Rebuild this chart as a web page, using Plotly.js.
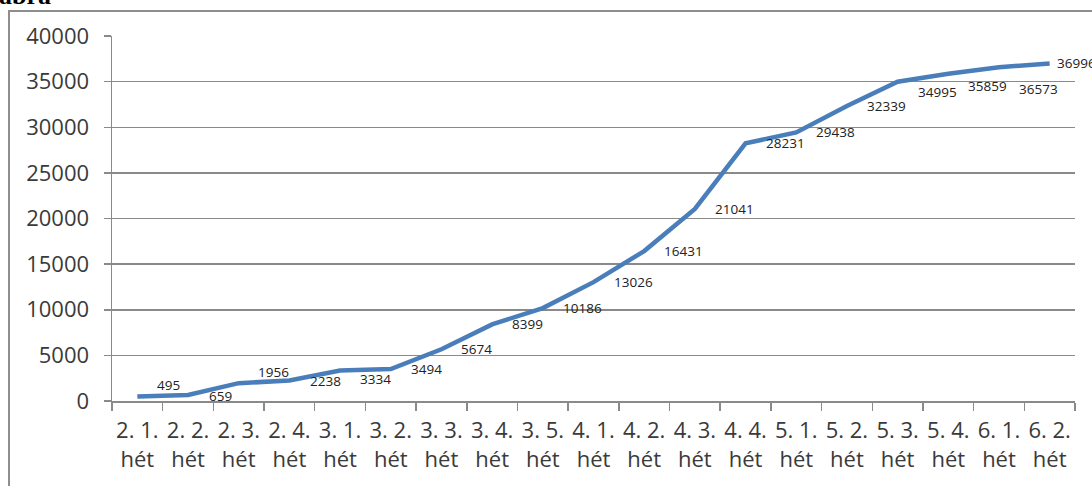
<!DOCTYPE html>
<html>
<head>
<meta charset="utf-8">
<script src="https://cdn.plot.ly/plotly-3.0.1.min.js"></script>
<style>
  html, body { margin: 0; padding: 0; background: #fff; overflow: hidden; }
  #wrap { position: relative; width: 1092px; height: 486px; overflow: hidden; }
  #frame { position: absolute; left: 8px; top: 10px; width: 1200px; height: 600px; border: 2px solid #8e8e8e; box-sizing: border-box; }
  #cap { position: absolute; left: -1px; top: -19px; font: bold 26px "Liberation Serif", serif; color: #000; }
  #chart { position: absolute; left: 0; top: 0; width: 1092px; height: 486px; }
</style>
</head>
<body>
<div id="wrap">
  <div id="frame"></div>
  <div id="cap">ábra</div>
  <div id="chart"></div>
</div>
<script>
// Categories (week labels) and cumulative values
const categories = ["2. 1. hét","2. 2. hét","2. 3. hét","2. 4. hét","3. 1. hét","3. 2. hét","3. 3. hét","3. 4. hét","3. 5. hét","4. 1. hét","4. 2. hét","4. 3. hét","4. 4. hét","5. 1. hét","5. 2. hét","5. 3. hét","5. 4. hét","6. 1. hét","6. 2. hét"];
const values = [495, 659, 1956, 2238, 3334, 3494, 5674, 8399, 10186, 13026, 16431, 21041, 28231, 29438, 32339, 34995, 35859, 36573, 36996];
const yTicks = [0, 5000, 10000, 15000, 20000, 25000, 30000, 35000, 40000];

// label placement (pixel shifts relative to each point)
const labelDx = [18,19,17,19,18,18,18,18,18,18,18,18,18,18,18,18,18,18,5];
const labelDy = [11,-1,11,0,-8,0,0,0,0,0,0,0,0,0,0,-10,-12,-22,0];

const annotations = values.map((v, i) => ({
  x: categories[i], y: v, xref: 'x', yref: 'y',
  text: String(v), showarrow: false,
  xanchor: 'left', yanchor: 'middle',
  xshift: labelDx[i], yshift: labelDy[i],
  font: { family: 'Open Sans, sans-serif', size: 13.5, color: '#222' }
}));

const trace = {
  x: categories, y: values, type: 'scatter', mode: 'lines',
  line: { color: '#4a7ebb', width: 4.5 },
  hoverinfo: 'skip', cliponaxis: false
};

const layout = {
  width: 1092, height: 486,
  margin: { l: 112, r: 17, t: 36, b: 85, pad: 0 },
  paper_bgcolor: 'rgba(0,0,0,0)', plot_bgcolor: 'rgba(0,0,0,0)',
  showlegend: false,
  font: { family: 'Open Sans, sans-serif', size: 22, color: '#3a3a3a' },
  xaxis: {
    type: 'category',
    tickmode: 'array', tickvals: categories,
    ticktext: categories.map(c => c.replace(' hét', '<br>hét')),
    showgrid: false, zeroline: false,
    showline: true, linecolor: '#8a8a8a', linewidth: 1.5,
    ticks: 'outside', ticklen: 8, tickcolor: '#8a8a8a', tickwidth: 1.5,
    tickson: 'boundaries',
    tickangle: 0,
    ticklabelstandoff: 9,
    tickfont: { size: 22, color: '#3a3a3a' },
    range: [-0.5, categories.length - 0.5]
  },
  yaxis: {
    range: [0, 40000],
    tickmode: 'array', tickvals: yTicks, ticktext: yTicks.map(String),
    showgrid: true, gridcolor: '#8a8a8a', gridwidth: 1.5,
    zeroline: false,
    showline: true, linecolor: '#8a8a8a', linewidth: 1.5,
    ticks: 'outside', ticklen: 7, tickcolor: '#8a8a8a', tickwidth: 1.5,
    ticklabelstandoff: 10,
    tickfont: { size: 22, color: '#3a3a3a' }
  },
  annotations: annotations
};

Plotly.newPlot('chart', [trace], layout, { staticPlot: true, displayModeBar: false });
</script>
</body>
</html>
